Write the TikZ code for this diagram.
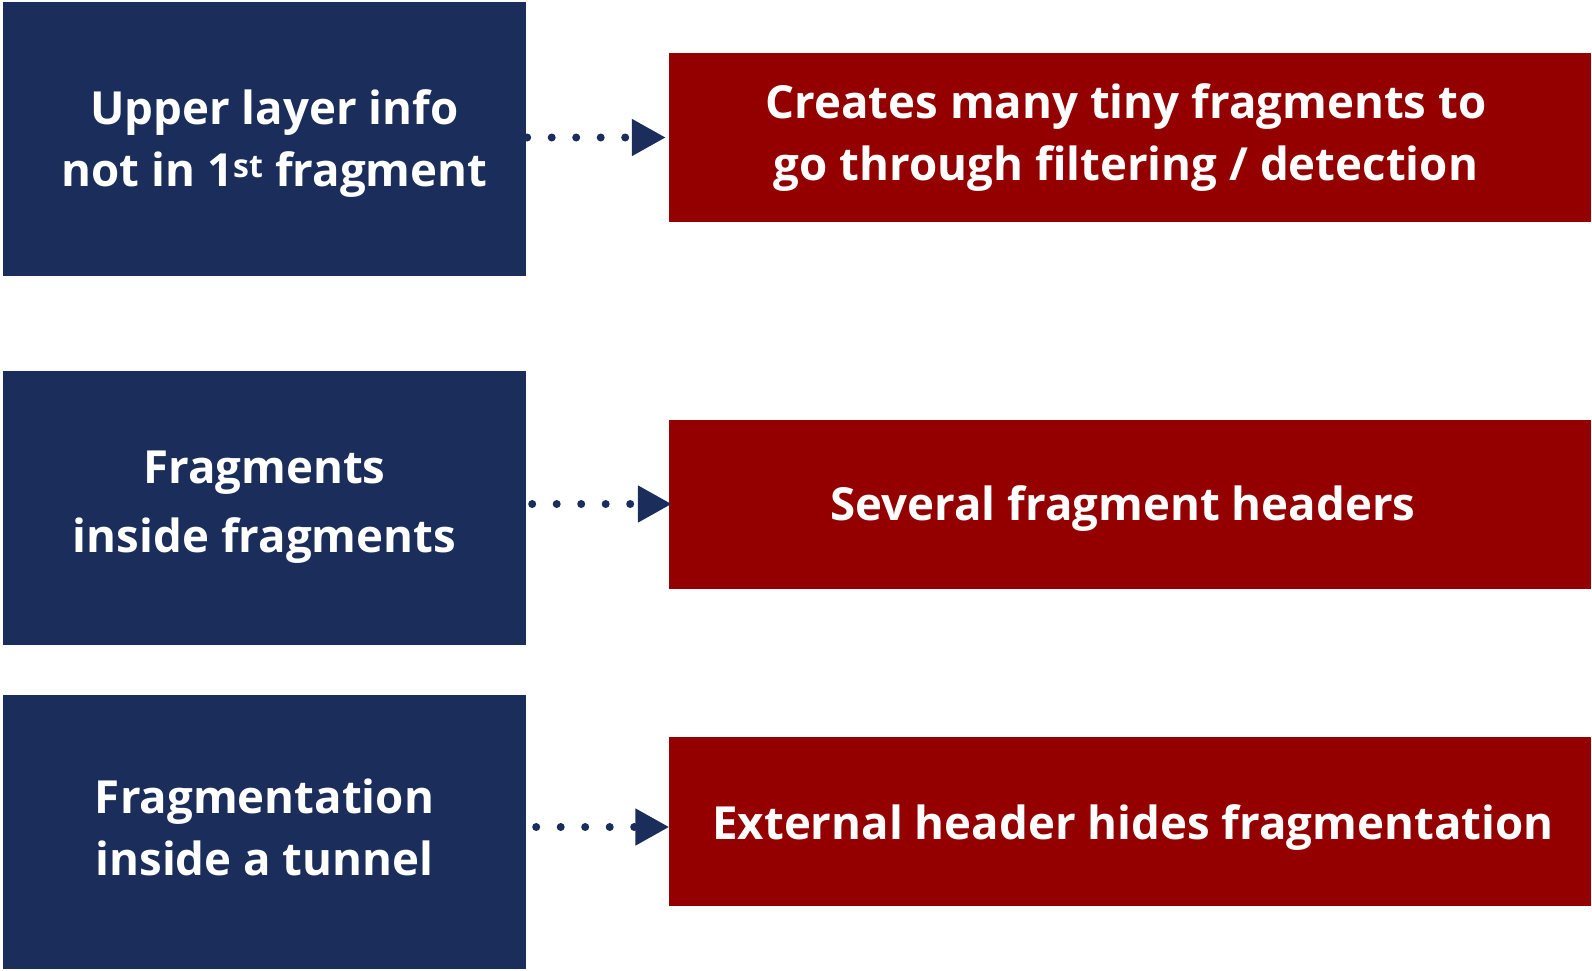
\documentclass[tikz,border=0pt]{standalone}
\usepackage{fontspec}
\setmainfont{Open Sans}
\usetikzlibrary{arrows.meta}
\definecolor{navy}{HTML}{1B2D5A}
\definecolor{crimson}{HTML}{940000}
\begin{document}
\begin{tikzpicture}[x=1pt,y=-1pt,
  cause/.style={fill=navy,minimum width=523pt,minimum height=274pt,inner sep=0pt},
  effect/.style={fill=crimson,minimum width=922pt,minimum height=169pt,inner sep=0pt},
  caption/.style={text=white,inner sep=0pt,align=center,
    font=\fontsize{45.6}{62}\selectfont\bfseries},
  link/.style={navy,line width=8pt,line cap=round,dash pattern=on 0pt off 24.5pt,
    -{Triangle[length=34pt,width=35pt,line cap=butt]}}]
\useasboundingbox (0,0) rectangle (1592,970);
% boxes
\node[cause]  (b1) at (264.5,139) {};
\node[cause]  (b2) at (264.5,508) {};
\node[cause]  (b3) at (264.5,832) {};
\node[effect] (r1) at (1130,137.5) {};
\node[effect] (r2) at (1130,504) {};
\node[effect] (r3) at (1129.5,821.5) {};
% captions
\node[caption] (b1t) at ([shift={(10,5)}]b1.center) {Upper layer info\\not in 1\textsuperscript{st} fragment};
\node[caption,font=\fontsize{45.6}{69.5}\selectfont\bfseries] (b2t) at ([shift={(0,-1)}]b2.center) {Fragments\\inside fragments};
\node[caption] (b3t) at ([shift={(0,-5)}]b3.center) {Fragmentation\\inside a tunnel};
\node[caption] (r1t) at ([shift={(-4,0)}]r1.center) {Creates many tiny fragments to\\go through filtering / detection};
\node[caption] (r2t) at ([shift={(-7,5)}]r2.center) {Several fragment headers};
\node[caption] (r3t) at ([shift={(3.5,6)}]r3.center) {External header hides fragmentation};
% connectors; the lowest one runs a little below the centre of its target
\coordinate (y3) at (0,827);
\coordinate (s3) at ([xshift=10pt]b3.east |- y3);
\coordinate (e3) at ([xshift=1pt]r3.west |- y3);
\draw[link] ([xshift=1pt]b1.east |- r1.west) -- ([xshift=-3pt]r1.west);
\draw[link] ([xshift=6pt]b2.east |- r2.west) -- ([xshift=3pt]r2.west);
\draw[link] (s3) -- (e3);
\end{tikzpicture}
\end{document}
